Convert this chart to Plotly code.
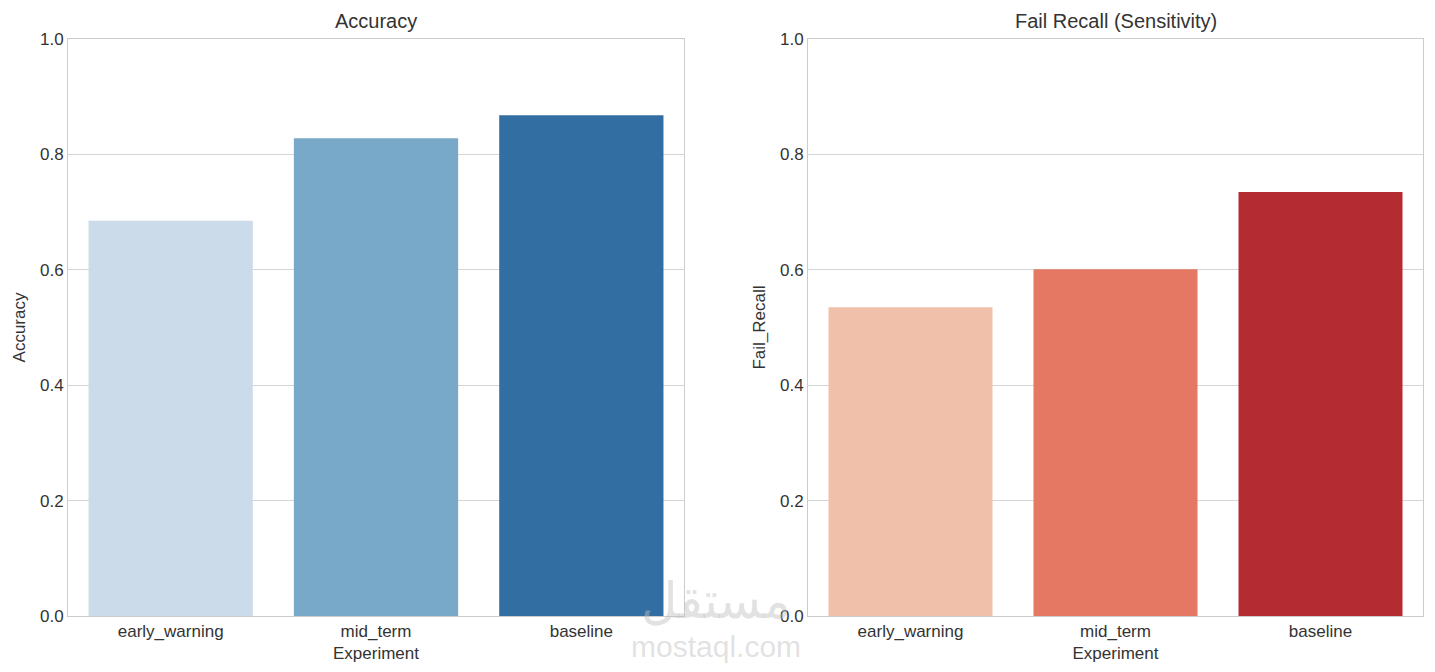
import plotly.graph_objects as go

experiments = ["early_warning", "mid_term", "baseline"]
accuracy = [0.685, 0.828, 0.868]
fail_recall = [0.535, 0.601, 0.735]
blue_colors = ["#cbdbea", "#78a9c8", "#336ea3"]
red_colors = ["#f0c0aa", "#e47862", "#b42c32"]
y_ticks = [0.0, 0.2, 0.4, 0.6, 0.8, 1.0]

W, H = 1435, 672
DX, DY = 8, 7  # page offset of the figure div
FONT = "Liberation Sans, Arial, sans-serif"
TXT = "#333333"


def px(x):
    return (x - DX) / W


def py(y):
    return (H - (y - DY)) / H


fig = go.Figure()
fig.add_trace(go.Bar(x=experiments, y=accuracy, marker=dict(color=blue_colors, line=dict(width=0)),
                     width=0.8, xaxis="x", yaxis="y", showlegend=False))
fig.add_trace(go.Bar(x=experiments, y=fail_recall, marker=dict(color=red_colors, line=dict(width=0)),
                     width=0.8, xaxis="x2", yaxis="y2", showlegend=False))

ydom = [py(615), py(38)]
xd1 = [px(68), px(684)]
xd2 = [px(808), px(1423)]

common_x = dict(showgrid=False, showline=True, mirror=True, linecolor="#cccccc", linewidth=1,
                ticks="", tickfont=dict(family=FONT, size=17, color=TXT), zeroline=False, automargin=False,
                title=dict(text="Experiment", font=dict(family=FONT, size=17, color=TXT), standoff=6))
common_y = dict(range=[0, 1], tickvals=y_ticks, ticktext=[f"{v:.1f}" for v in y_ticks],
                showgrid=True, gridcolor="#d5d5d5", gridwidth=1, showline=True, mirror=True,
                linecolor="#cccccc", linewidth=1, zeroline=False, ticks="", automargin=False,
                tickfont=dict(family=FONT, size=17, color=TXT))

fig.update_layout(
    width=W, height=H,
    margin=dict(l=0, r=0, t=0, b=0),
    paper_bgcolor="white", plot_bgcolor="white",
    bargap=0.2,
    xaxis=dict(domain=xd1, anchor="y", **common_x),
    yaxis=dict(domain=ydom, anchor="x", title=dict(text="Accuracy", font=dict(family=FONT, size=17, color=TXT), standoff=10), **common_y),
    xaxis2=dict(domain=xd2, anchor="y2", **common_x),
    yaxis2=dict(domain=ydom, anchor="x2", title=dict(text="Fail_Recall", font=dict(family=FONT, size=17, color=TXT), standoff=10), **common_y),
    annotations=[
        dict(text="Accuracy", x=(xd1[0] + xd1[1]) / 2, y=py(20), xref="paper", yref="paper",
             showarrow=False, font=dict(family=FONT, size=20, color=TXT), xanchor="center", yanchor="middle"),
        dict(text="Fail Recall (Sensitivity)", x=(xd2[0] + xd2[1]) / 2, y=py(20), xref="paper", yref="paper",
             showarrow=False, font=dict(family=FONT, size=20, color=TXT), xanchor="center", yanchor="middle"),
        dict(text="مستقل", x=px(716), y=py(598), xref="paper", yref="paper", showarrow=False,
             font=dict(family="Noto Sans, sans-serif", size=50, color="rgba(190,190,190,0.45)"),
             xanchor="center", yanchor="middle"),
        dict(text="mostaql.com", x=px(716), y=py(645), xref="paper", yref="paper", showarrow=False,
             font=dict(family=FONT, size=30, color="rgba(190,190,190,0.45)"),
             xanchor="center", yanchor="middle"),
    ],
)

fig.write_html("out.html")
